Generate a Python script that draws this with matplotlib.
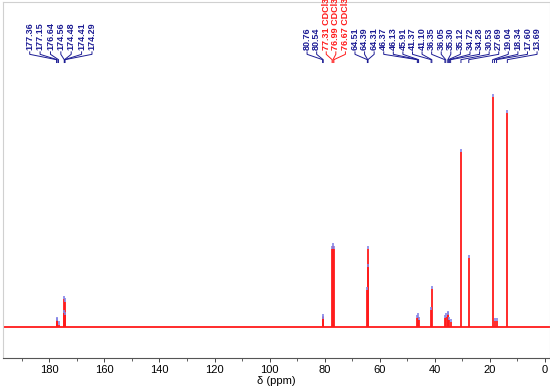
import numpy as np
import matplotlib.pyplot as plt

plt.rcParams['font.family'] = ['Liberation Sans', 'DejaVu Sans']

# picked peaks (ppm) and their heights (tallest = 100)
peak_ppm = [177.36, 177.15, 176.64, 174.56, 174.48, 174.41, 174.29,
            80.76, 80.54, 77.31, 76.99, 76.67, 64.51, 64.39, 64.31,
            46.37, 46.13, 45.91, 41.37, 41.10, 36.35, 36.05, 35.30, 35.12,
            34.72, 34.28, 30.53, 27.69, 19.04, 18.34, 17.60, 13.69]
peak_height = [3.0, 2.5, 1.0, 6.0, 12.0, 11.0, 5.0,
               4.3, 3.5, 34.0, 35.0, 34.0, 16.0, 34.0, 26.0,
               4.0, 4.5, 3.0, 7.4, 16.5, 4.0, 4.5, 5.5, 5.0,
               3.0, 2.0, 76.0, 30.0, 100.0, 2.5, 2.5, 93.0]
solvent = [False] * 9 + [True] * 3 + [False] * 20
peak_labels = ['%.2f' % p + (' CDCl3' if s else '') for p, s in zip(peak_ppm, solvent)]

# label groups: (first index, last index + 1)
groups = [(0, 7), (7, 32)]
xticks = [0, 20, 40, 60, 80, 100, 120, 140, 160, 180]

blue = '#1c1c94'
red = '#ff1a1a'

fig = plt.figure(figsize=(5.5, 3.9), dpi=100)
ax = fig.add_axes([3 / 550, 32 / 390, 547 / 550, 356 / 390])

xmin, xmax = 196.8, -1.8
ax.set_xlim(xmin, xmax)
ax.set_ylim(-13.5, 141.3)

# spectrum: baseline plus peak lines
ax.plot([xmin, xmax], [0, 0], color=red, lw=1.3, zorder=2)
ax.vlines(peak_ppm, 0, peak_height, color=red, lw=1.3, zorder=2)
ax.vlines(peak_ppm, peak_height, np.array(peak_height) + 1.4,
          color='#8585e6', lw=1.2, zorder=3)

# labels with converging connectors
tr = ax.get_xaxis_transform()
span = {0: (187.1, 164.5), 7: (86.4, 2.9)}
for g0, g1 in groups:
    lab_x = np.linspace(span[g0][0], span[g0][1], g1 - g0)
    for k, i in enumerate(range(g0, g1)):
        c = red if solvent[i] else blue
        ax.text(lab_x[k], 0.864, peak_labels[i], rotation=90, ha='center',
                va='bottom', fontsize=6.5, fontweight='bold', color=c,
                transform=tr, clip_on=False)
        ax.plot([lab_x[k], lab_x[k], peak_ppm[i], peak_ppm[i]],
                [0.860, 0.853, 0.838, 0.830], color=c, lw=0.7,
                transform=tr, clip_on=False)

ax.set_xticks(xticks)
ax.set_xticks(np.arange(10, 200, 20), minor=True)
ax.tick_params(axis='x', direction='out', length=3, width=0.7, labelsize=8,
               pad=2, color='#444444')
ax.tick_params(axis='x', which='minor', length=2, width=0.6, color='#444444')
ax.set_yticks([])
ax.set_xlabel('δ (ppm)', fontsize=8, labelpad=1)

for s in ['left', 'top', 'right']:
    ax.spines[s].set_color('#d0d0d0')
    ax.spines[s].set_linewidth(0.8)
ax.spines['bottom'].set_color('#555555')
ax.spines['bottom'].set_linewidth(0.8)

plt.savefig('out.png', dpi=100)
